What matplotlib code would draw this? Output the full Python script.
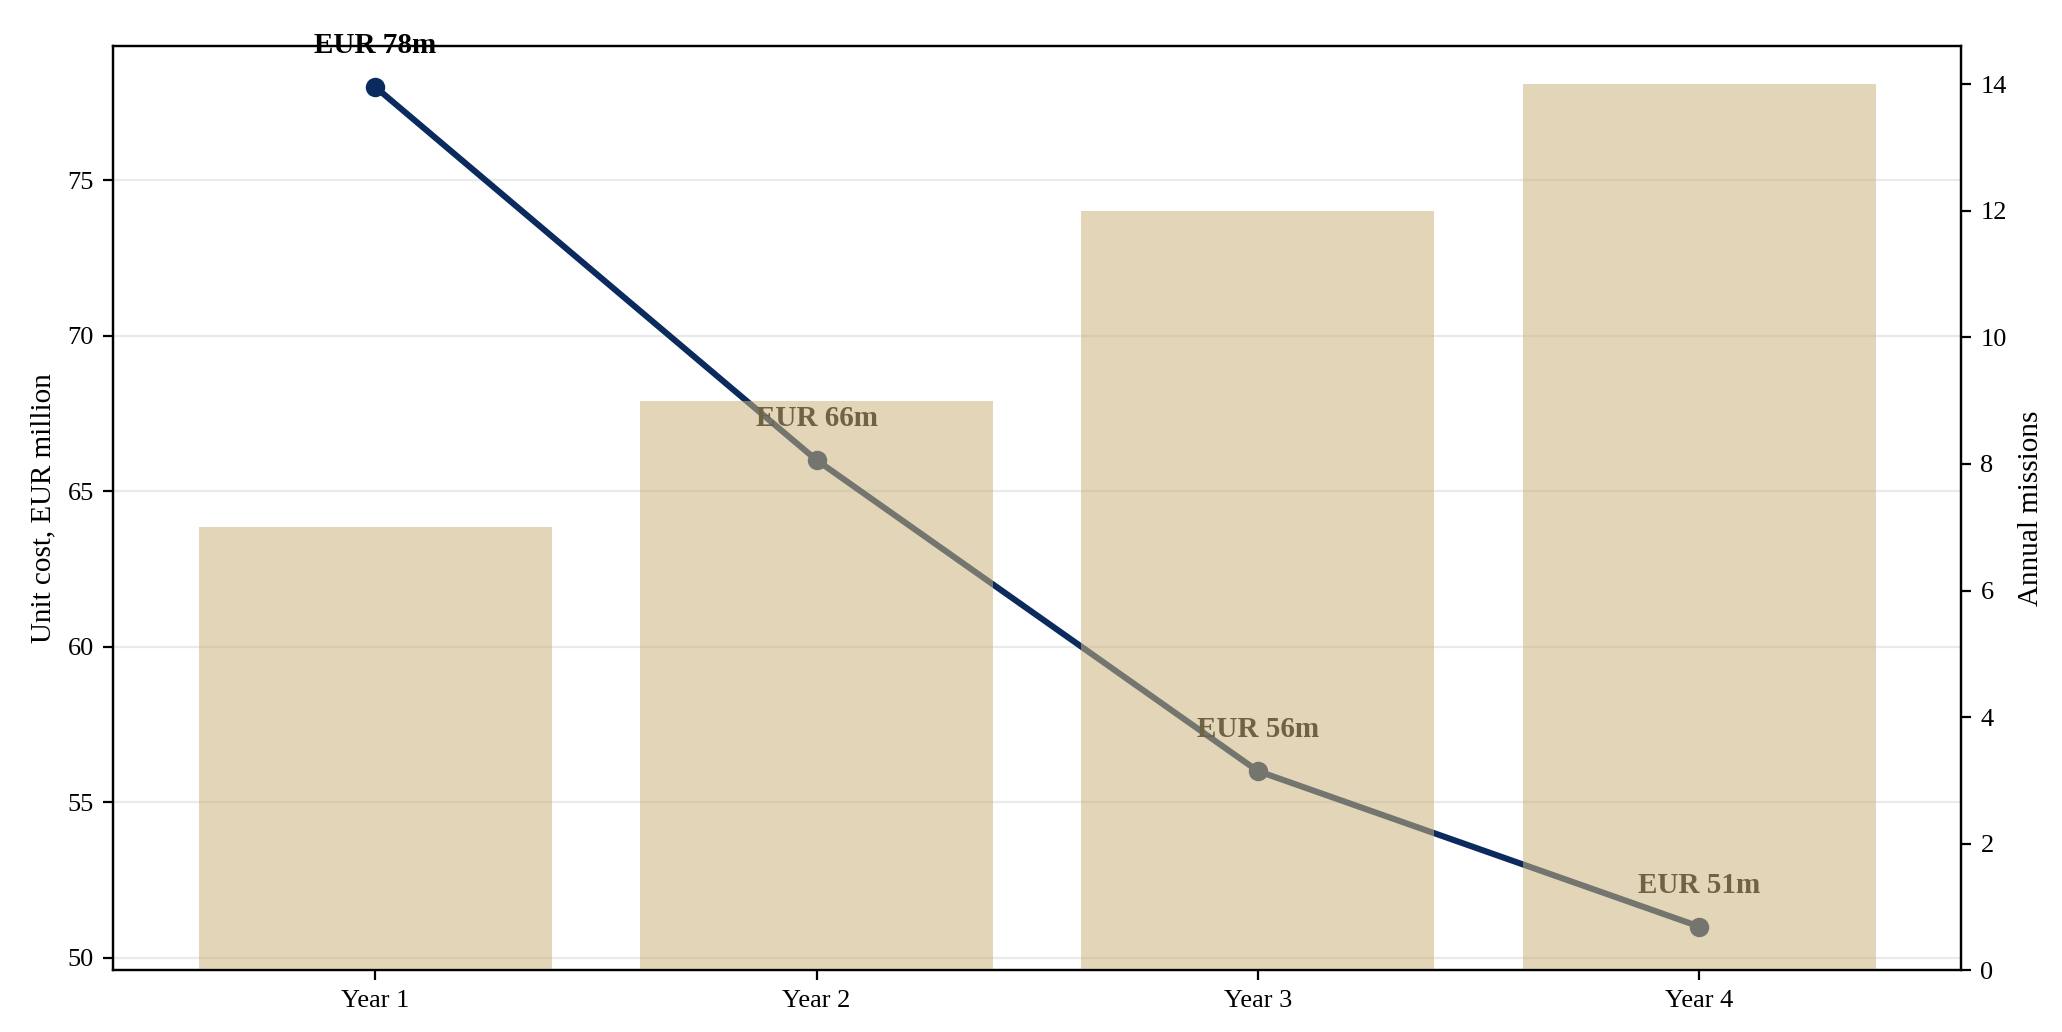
import matplotlib
matplotlib.use("Agg")
import matplotlib.pyplot as plt

years = ["Year 1", "Year 2", "Year 3", "Year 4"]
unit_cost = [78, 66, 56, 51]
missions = [7, 9, 12, 14]
labels = ["EUR 78m", "EUR 66m", "EUR 56m", "EUR 51m"]

plt.rcParams['font.family'] = ['Liberation Serif', 'DejaVu Serif']
fig = plt.figure(figsize=(10.31, 5.16), dpi=200)
ax = fig.add_axes([0.055, 0.06, 0.896, 0.895])
ax2 = ax.twinx()
x = list(range(len(years)))
ax.plot(x, unit_cost, color='#0b2a5e', lw=2.2, marker='o', ms=6, zorder=3)
for xi, v, t in zip(x, unit_cost, labels):
    ax.annotate(t, (xi, v), xytext=(0, 10), textcoords='offset points',
                ha='center', va='bottom', fontsize=10.5, fontweight='bold', color='black')
ax.set_ylim(49.6, 79.3)
ax.set_xlim(-0.593, 3.593)
ax.set_xticks(x)
ax.set_xticklabels(years)
ax.set_ylabel("Unit cost, EUR million", fontsize=10.5)
ax.grid(axis='y', color='#dddddd', lw=0.8, alpha=0.6)
ax.set_axisbelow(True)
ax2.bar(x, missions, width=0.8, color='#cbb47e', alpha=0.55, zorder=2)
ax2.set_ylim(0, 14.6)
ax2.set_ylabel("Annual missions", fontsize=10.5)
ax2.set_xlim(-0.593, 3.593)
for a in (ax, ax2):
    a.tick_params(labelsize=9.5)
fig.savefig("out.png", dpi=200)
